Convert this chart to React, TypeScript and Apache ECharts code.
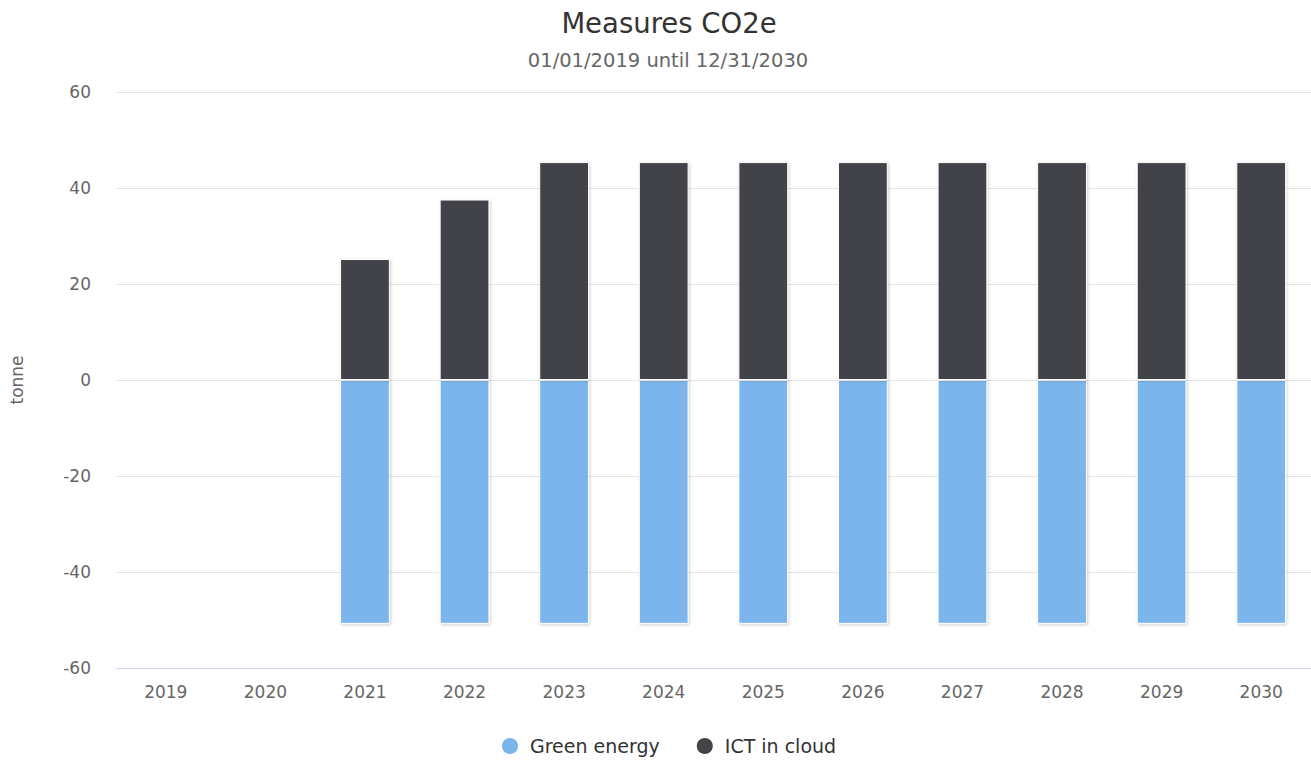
import React, { useEffect, useRef } from "react";
import * as echarts from "echarts";

const categories = ["2019", "2020", "2021", "2022", "2023", "2024", "2025", "2026", "2027", "2028", "2029", "2030"];
const greenEnergy = [null, null, -50.8, -50.8, -50.8, -50.8, -50.8, -50.8, -50.8, -50.8, -50.8, -50.8];
const ictInCloud = [null, null, 25.2, 37.6, 45.4, 45.4, 45.4, 45.4, 45.4, 45.4, 45.4, 45.4];
const yTicks = { min: -60, max: 60, interval: 20 };

const FONT = "'DejaVu Sans', Verdana, sans-serif";

export default function App() {
  const ref = useRef<HTMLDivElement>(null);
  useEffect(() => {
    if (!ref.current) return;
    const chart = echarts.init(ref.current, undefined, { renderer: "svg" });
    const itemStyleBase = {
      borderColor: "#ffffff",
      borderWidth: 1,
      shadowColor: "rgba(0,0,0,0.2)",
      shadowBlur: 3,
      shadowOffsetX: 1,
      shadowOffsetY: 1,
    };
    chart.setOption({
      animation: false,
      backgroundColor: "#ffffff",
      textStyle: { fontFamily: FONT },
      title: [
        {
          text: "Measures CO2e",
          left: 664,
          top: 4,
          textAlign: "center",
          textStyle: { fontFamily: FONT, fontSize: 27.5, fontWeight: "normal", color: "#333333" },
        },
        {
          text: "01/01/2019 until 12/31/2030",
          left: 663,
          top: 45,
          textAlign: "center",
          textStyle: { fontFamily: FONT, fontSize: 19.5, fontWeight: "normal", color: "#666666" },
        },
      ],
      legend: {
        data: ["Green energy", "ICT in cloud"],
        left: 495,
        top: 731,
        icon: "circle",
        itemWidth: 18,
        itemHeight: 18,
        itemGap: 35,
        textStyle: { fontFamily: FONT, fontSize: 19, color: "#333333", padding: [0, 0, 0, 6] },
      },
      grid: { left: 116, right: 0, top: 92, bottom: 93, containLabel: false },
      xAxis: {
        type: "category",
        data: categories,
        axisLine: { show: true, onZero: false, lineStyle: { color: "#ccd6eb", width: 1 } },
        axisTick: { show: false },
        axisLabel: { color: "#666666", fontSize: 17, fontFamily: FONT, margin: 15 },
      },
      yAxis: {
        type: "value",
        min: yTicks.min,
        max: yTicks.max,
        interval: yTicks.interval,
        name: "tonne",
        nameLocation: "middle",
        nameGap: 91,
        nameRotate: 90,
        nameTextStyle: { color: "#666666", fontSize: 17, fontFamily: FONT },
        axisLine: { show: false },
        axisTick: { show: false },
        axisLabel: { color: "#666666", fontSize: 17, fontFamily: FONT, margin: 25 },
        splitLine: { lineStyle: { color: "#e6e6e6", width: 1 } },
      },
      series: [
        {
          name: "Green energy",
          type: "bar",
          stack: "total",
          data: greenEnergy,
          barWidth: "50%",
          itemStyle: { ...itemStyleBase, color: "#7cb5ec" },
        },
        {
          name: "ICT in cloud",
          type: "bar",
          stack: "total",
          data: ictInCloud,
          barWidth: "50%",
          itemStyle: { ...itemStyleBase, color: "#434348" },
        },
      ],
    });
    return () => chart.dispose();
  }, []);
  return (
    <div
      ref={ref}
      style={{ position: "absolute", left: 0, top: 0, width: 1311, height: 761 }}
    />
  );
}
